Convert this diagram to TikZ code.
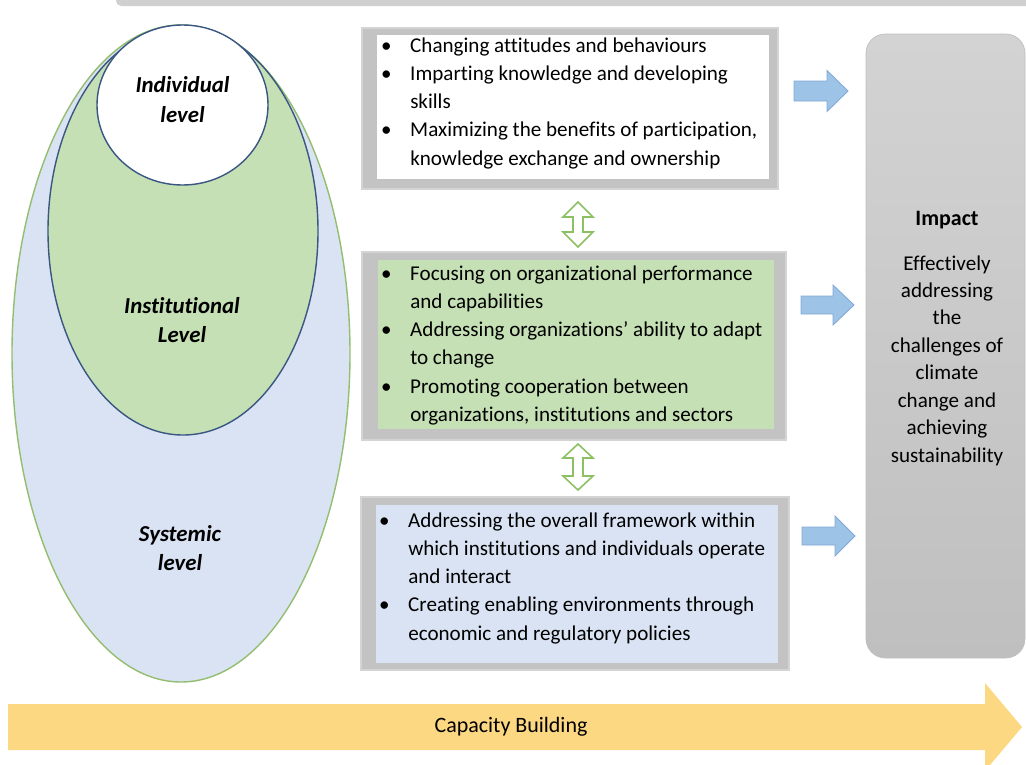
\documentclass[tikz,border=0pt]{standalone}
\usepackage{fontspec}
\setmainfont{Carlito}[Ligatures=NoCommon]

\definecolor{sysblue}{HTML}{DAE3F3}
\definecolor{sysline}{HTML}{93BE6F}
\definecolor{instgreen}{HTML}{C5E0B4}
\definecolor{navyline}{HTML}{3A5683}
\definecolor{framegray}{HTML}{C3C3C3}
\definecolor{frameedge}{HTML}{D4D4D4}
\definecolor{arrowblue}{HTML}{9DC3E6}
\definecolor{arrowedge}{HTML}{84A9D6}
\definecolor{dblgreen}{HTML}{8CC063}
\definecolor{cbyellow}{HTML}{FDD882}
\definecolor{impacttop}{HTML}{D3D3D3}
\definecolor{impactbot}{HTML}{BFBFBF}
\definecolor{bargray}{HTML}{D0D0D0}

\newcommand{\bul}{\makebox[13.6pt][l]{\makebox[0pt]{\textbullet}}}
\newcommand{\ind}{\hspace*{13.6pt}}

\tikzset{
  levellabel/.style={font=\fontsize{13}{17}\selectfont\bfseries\itshape, align=center, inner sep=0pt},
  boxframe/.style={fill=framegray, draw=frameedge, line width=0.6pt},
  listtext/.style={font=\fontsize{12}{16.1}\selectfont, anchor=base west, inner sep=0pt},
  bluearrow/.style={fill=arrowblue, draw=arrowedge, line width=0.5pt},
  dblarrow/.style={fill=white, draw=dblgreen, line width=0.9pt},
}

\begin{document}
\begin{tikzpicture}[x=0.02cm, y=-0.02cm]
\useasboundingbox (0,0) rectangle (1026,764);

% grey strip along the top
\fill[bargray, rounded corners=3pt] (116,-20) rectangle (1040,6);

% nested levels
\draw[sysline, fill=sysblue, line width=0.8pt] (181,353.5) ellipse [x radius=169, y radius=328.5];
\draw[navyline, fill=instgreen, line width=0.8pt] (183,231) ellipse [x radius=135, y radius=204];
\draw[navyline, fill=white, line width=0.8pt] (182.5,105) ellipse [x radius=85.5, y radius=80];
\node[levellabel] (individual) at (182.5,100) {Individual\\level};
\node[levellabel] (institutional) at (182,320) {Institutional\\Level};
\node[levellabel] (systemic) at (180,548) {Systemic\\level};

% top box
\draw[boxframe] (362,28) rectangle (778,189);
\fill[white] (377,35) rectangle (769,179);
\node[listtext] (toplist) at (386,52) {\begin{tabular}[t]{@{}l@{}}
\bul Changing attitudes and behaviours\\
\bul Imparting knowledge and developing\\
\ind skills\\
\bul Maximizing the benefits of participation,\\
\ind knowledge exchange and ownership
\end{tabular}};

% middle box
\draw[boxframe] (362,252) rectangle (786,440);
\fill[instgreen] (378,260) rectangle (774,429);
\node[listtext] (midlist) at (386,280) {\begin{tabular}[t]{@{}l@{}}
\bul Focusing on organizational performance\\
\ind and capabilities\\
\bul Addressing organizations’ ability to adapt\\
\ind to change\\
\bul Promoting cooperation between\\
\ind organizations, institutions and sectors
\end{tabular}};

% bottom box
\draw[boxframe] (361,497) rectangle (789,670);
\fill[sysblue] (376,505) rectangle (778,663);
\node[listtext] (botlist) at (384,527) {\begin{tabular}[t]{@{}l@{}}
\bul Addressing the overall framework within\\
\ind which institutions and individuals operate\\
\ind and interact\\
\bul Creating enabling environments through\\
\ind economic and regulatory policies
\end{tabular}};

% up-down arrows between the boxes
\draw[dblarrow, shift={(578,224.5)}] (0,-22.5) -- (15,-7.5) -- (5,-7.5) -- (5,7.5) -- (15,7.5) -- (0,22.5)
  -- (-15,7.5) -- (-5,7.5) -- (-5,-7.5) -- (-15,-7.5) -- cycle;
\draw[dblarrow, shift={(578,467)}] (0,-23) -- (15,-9) -- (5,-9) -- (5,9) -- (15,9) -- (0,23)
  -- (-15,9) -- (-5,9) -- (-5,-9) -- (-15,-9) -- cycle;

% impact
\shade[top color=impacttop, bottom color=impactbot, draw=impactbot, rounded corners=11pt] (866,34) rectangle (1025,658);
\node[font=\fontsize{12.5}{15}\selectfont\bfseries, anchor=base, inner sep=0pt] (impact) at (947,225) {Impact};
\node[font=\fontsize{12}{15.65}\selectfont, anchor=base, inner sep=0pt] (impactbody) at (947,270) {\begin{tabular}[t]{@{}c@{}}
Effectively\\addressing\\the\\challenges of\\climate\\change and\\achieving\\sustainability
\end{tabular}};

% arrows into impact
\draw[bluearrow, shift={(794,91)}] (0,-10) -- (33,-10) -- (33,-20.5) -- (54,0) -- (33,20.5) -- (33,10) -- (0,10) -- cycle;
\draw[bluearrow, shift={(801,305)}] (0,-9) -- (32,-9) -- (32,-20) -- (53,0) -- (32,20) -- (32,9) -- (0,9) -- cycle;
\draw[bluearrow, shift={(802,536)}] (0,-9) -- (33,-9) -- (33,-20) -- (53,0) -- (33,20) -- (33,9) -- (0,9) -- cycle;

% capacity building
\fill[cbyellow] (8,704) -- (985,704) -- (985,683) -- (1022,727) -- (985,771) -- (985,750) -- (8,750) -- cycle;
\node[font=\fontsize{12.5}{15}\selectfont] (capacity) at (511,727) {Capacity Building};
\end{tikzpicture}
\end{document}
